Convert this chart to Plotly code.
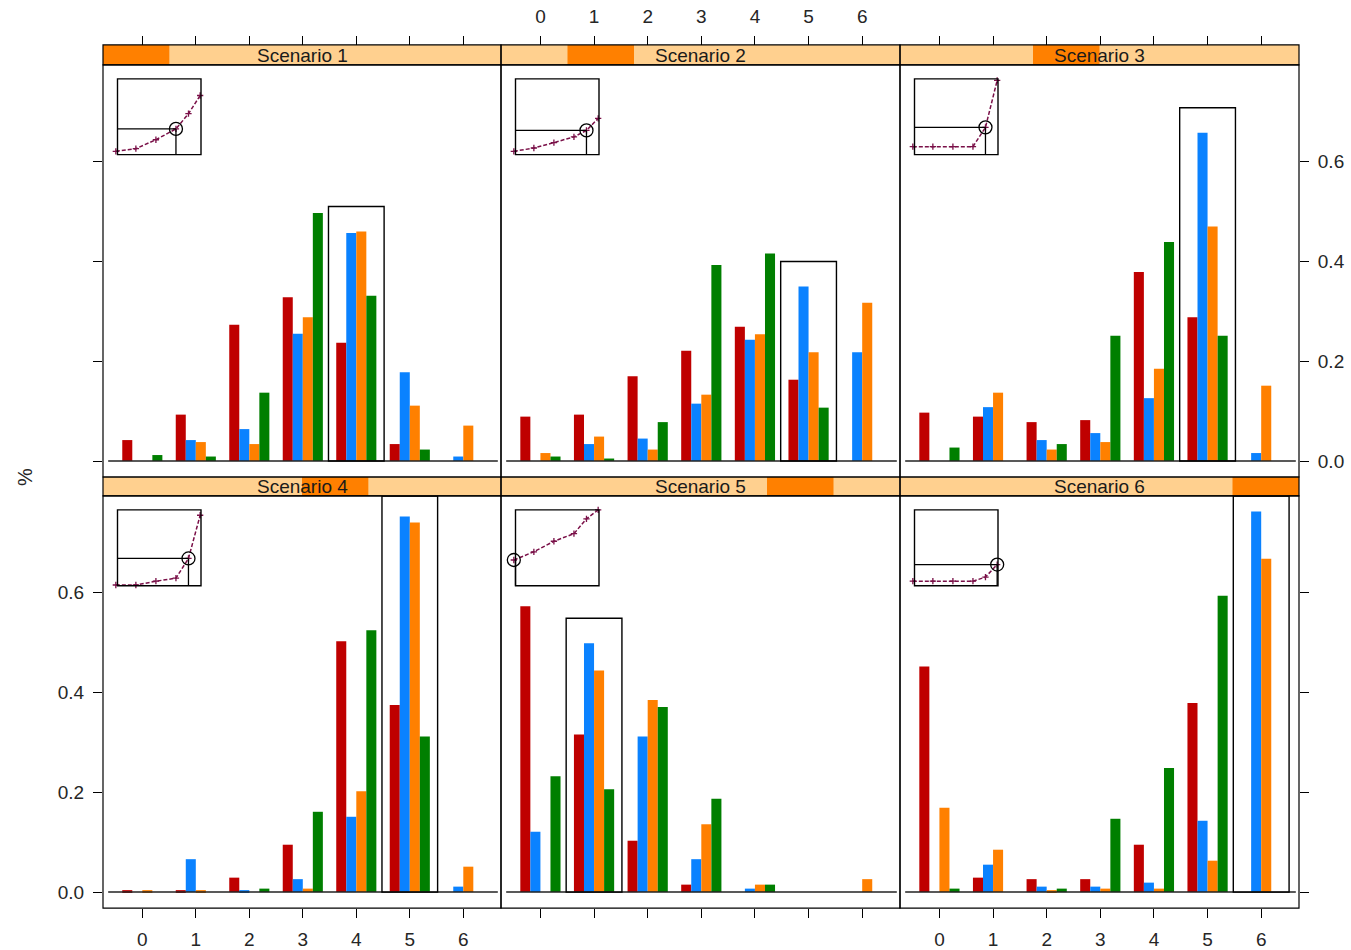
import plotly.graph_objects as go

# ---------------- data ----------------
categories = [0, 1, 2, 3, 4, 5, 6]
scenarios = ["Scenario 1", "Scenario 2", "Scenario 3", "Scenario 4", "Scenario 5", "Scenario 6"]
series_names = ["Series A", "Series B", "Series C", "Series D"]
series_colors = ["#BF0000", "#0A82FF", "#FF8000", "#007F00"]

red_vals = [
    [0.042, 0.093, 0.273, 0.328, 0.237, 0.034, 0.0],
    [0.089, 0.093, 0.170, 0.221, 0.269, 0.163, 0.0],
    [0.097, 0.089, 0.078, 0.082, 0.379, 0.288, 0.0],
    [0.004, 0.004, 0.029, 0.095, 0.503, 0.375, 0.0],
    [0.573, 0.316, 0.103, 0.015, 0.0, 0.0, 0.0],
    [0.452, 0.029, 0.026, 0.026, 0.095, 0.379, 0.0],
]
blue_vals = [
    [0.0, 0.042, 0.064, 0.255, 0.457, 0.178, 0.009],
    [0.0, 0.034, 0.045, 0.115, 0.243, 0.350, 0.218],
    [0.0, 0.108, 0.042, 0.056, 0.126, 0.658, 0.016],
    [0.0, 0.066, 0.004, 0.026, 0.151, 0.753, 0.011],
    [0.121, 0.499, 0.312, 0.066, 0.007, 0.0, 0.0],
    [0.0, 0.055, 0.011, 0.011, 0.019, 0.143, 0.763],
]
orange_vals = [
    [0.0, 0.038, 0.034, 0.288, 0.460, 0.111, 0.071],
    [0.016, 0.049, 0.023, 0.133, 0.254, 0.218, 0.317],
    [0.0, 0.137, 0.023, 0.038, 0.185, 0.470, 0.151],
    [0.004, 0.004, 0.0, 0.007, 0.202, 0.741, 0.051],
    [0.0, 0.444, 0.385, 0.136, 0.015, 0.0, 0.026],
    [0.169, 0.085, 0.004, 0.007, 0.007, 0.063, 0.668],
]
green_vals = [
    [0.012, 0.009, 0.137, 0.497, 0.331, 0.023, 0.0],
    [0.009, 0.005, 0.078, 0.393, 0.416, 0.107, 0.0],
    [0.027, 0.0, 0.034, 0.251, 0.439, 0.251, 0.0],
    [0.0, 0.0, 0.007, 0.161, 0.525, 0.312, 0.0],
    [0.232, 0.206, 0.371, 0.187, 0.015, 0.0, 0.0],
    [0.007, 0.0, 0.007, 0.147, 0.249, 0.594, 0.0],
]
highlight_cat = [4, 5, 5, 5, 1, 6]

inset_x = [-0.02, 0.22, 0.46, 0.70, 0.85, 0.99]
inset_y = [
    [0.044, 0.079, 0.197, 0.34, 0.54, 0.78],
    [0.044, 0.088, 0.159, 0.235, 0.32, 0.478],
    [0.106, 0.106, 0.106, 0.106, 0.36, 0.98],
    [0.01, 0.01, 0.06, 0.10, 0.36, 0.93],
    [0.34, 0.448, 0.587, 0.687, 0.883, 1.0],
    [0.06, 0.06, 0.06, 0.06, 0.115, 0.28],
]
inset_mark = [3, 4, 4, 4, 0, 5]

y_tickvals = [0.0, 0.2, 0.4, 0.6]
y_ticktext = ["0.0", "0.2", "0.4", "0.6"]

# ---------------- layout geometry ----------------
W, H = 1351, 950
def fx(p):
    return p / W
def fy(p):
    return 1 - p / H

col_px = [(103, 501), (501, 900), (900, 1299)]
row_panel_px = [(65, 478), (497, 910)]
row_strip_px = [(45, 65), (478, 497)]
XR = [-0.735, 6.705]
YR = [-0.032, 0.794]
FONT = "Liberation Sans, Arial, sans-serif"
TXT = "#262626"
STRIP_LIGHT = "#FFD08F"
STRIP_DARK = "#FF8000"
INSET_COL = "#7A1048"
TICKFONT = dict(size=19, color=TXT, family=FONT)

fig = go.Figure()
layout = dict(
    width=W, height=H, margin=dict(l=0, r=0, t=0, b=0),
    paper_bgcolor="white", plot_bgcolor="rgba(0,0,0,0)",
    barmode="group", bargap=0.25, bargroupgap=0.0,
    showlegend=False, font=dict(family=FONT, size=19, color=TXT),
)
shapes = []
annotations = []

all_series = [red_vals, blue_vals, orange_vals, green_vals]

for i in range(6):
    r, c = divmod(i, 3)
    n = i + 1
    xa = "x" if n == 1 else f"x{n}"
    ya = "y" if n == 1 else f"y{n}"
    xkey = "xaxis" if n == 1 else f"xaxis{n}"
    ykey = "yaxis" if n == 1 else f"yaxis{n}"
    x0p, x1p = col_px[c]
    y0p, y1p = row_panel_px[r]

    for s, vals in enumerate(all_series):
        fig.add_trace(go.Bar(
            x=categories, y=vals[i], name=series_names[s],
            marker=dict(color=series_colors[s], line=dict(width=0)),
            xaxis=xa, yaxis=ya,
        ))

    xdict = dict(
        domain=[fx(x0p), fx(x1p)], range=XR, showgrid=False, zeroline=False,
        showline=False, tickvals=categories, ticktext=[str(v) for v in categories],
        ticks="outside", ticklen=9, tickwidth=1, tickcolor="black",
        tickfont=TICKFONT, ticklabelstandoff=5, fixedrange=True,
    )
    if r == 0:
        xdict.update(anchor="free", position=fy(row_strip_px[0][0]), side="top",
                     showticklabels=(c == 1))
    else:
        xdict.update(anchor=ya, side="bottom", showticklabels=(c != 1))
    layout[xkey] = xdict

    ydict = dict(
        domain=[fy(y1p), fy(y0p)], range=YR, anchor=xa, showgrid=False,
        zeroline=False, showline=False, tickvals=y_tickvals, ticktext=y_ticktext,
        tickwidth=1, tickcolor="black", ticklen=9,
        tickfont=TICKFONT, ticklabelstandoff=5, fixedrange=True,
    )
    if c == 0:
        ydict.update(side="left", ticks="outside", showticklabels=(r == 1))
    elif c == 2:
        ydict.update(side="right", ticks="outside", showticklabels=(r == 0))
    else:
        ydict.update(ticks="", showticklabels=False)
    layout[ykey] = ydict

    # baseline at 0
    shapes.append(dict(type="line", xref=f"{xa} domain", yref=ya, x0=0.013, x1=0.992,
                       y0=0, y1=0, line=dict(color="#222222", width=1.5), layer="above"))
    # highlight box
    hc = highlight_cat[i]
    top = max(v[i][hc] for v in all_series) + 0.05
    top = min(top, YR[1])
    shapes.append(dict(type="rect", xref=xa, yref=ya, x0=hc - 0.52, x1=hc + 0.52,
                       y0=0, y1=top, line=dict(color="black", width=1.4),
                       fillcolor="rgba(0,0,0,0)", layer="above"))
    # panel border
    shapes.append(dict(type="rect", xref="paper", yref="paper",
                       x0=fx(x0p), x1=fx(x1p), y0=fy(y1p), y1=fy(y0p),
                       line=dict(color="black", width=1.2), layer="above"))
    # strip
    sy0, sy1 = row_strip_px[r]
    shapes.append(dict(type="rect", xref="paper", yref="paper",
                       x0=fx(x0p), x1=fx(x1p), y0=fy(sy1), y1=fy(sy0),
                       fillcolor=STRIP_LIGHT, line=dict(width=0), layer="below"))
    seg = (x1p - x0p) / 6.0
    shapes.append(dict(type="rect", xref="paper", yref="paper",
                       x0=fx(x0p + i * seg), x1=fx(x0p + (i + 1) * seg),
                       y0=fy(sy1), y1=fy(sy0),
                       fillcolor=STRIP_DARK, line=dict(width=0), layer="below"))
    shapes.append(dict(type="rect", xref="paper", yref="paper",
                       x0=fx(x0p), x1=fx(x1p), y0=fy(sy1), y1=fy(sy0),
                       fillcolor="rgba(0,0,0,0)", line=dict(color="black", width=1.2),
                       layer="above"))
    annotations.append(dict(text=scenarios[i], xref="paper", yref="paper",
                            x=fx((x0p + x1p) / 2), y=fy((sy0 + sy1) / 2 + 0.5),
                            showarrow=False, xanchor="center", yanchor="middle",
                            font=dict(size=19, color="#1a1a1a", family=FONT)))

    # inset
    k = 7 + i
    ixa, iya = f"x{k}", f"y{k}"
    bx0 = x0p + 14.5
    bx1 = bx0 + 83.5
    by0 = y0p + 14
    by1 = by0 + 76
    pad = 0.1
    bw, bh = bx1 - bx0, by1 - by0
    layout[f"xaxis{k}"] = dict(domain=[fx(bx0 - pad * bw), fx(bx1 + pad * bw)],
                               range=[-pad, 1 + pad], visible=False, anchor=iya,
                               fixedrange=True)
    layout[f"yaxis{k}"] = dict(domain=[fy(by1 + pad * bh), fy(by0 - pad * bh)],
                               range=[-pad, 1 + pad], visible=False, anchor=ixa,
                               fixedrange=True)
    fig.add_trace(go.Scatter(
        x=inset_x, y=inset_y[i], mode="lines+markers", xaxis=ixa, yaxis=iya,
        line=dict(color=INSET_COL, width=1.5, dash="4px,2px"),
        marker=dict(symbol="cross-thin", size=4.5, line=dict(color=INSET_COL, width=1.3),
                    color=INSET_COL),
        cliponaxis=False, hoverinfo="skip",
    ))
    m = inset_mark[i]
    mu = max(inset_x[m], 0.0)
    mv = inset_y[i][m]
    shapes.append(dict(type="rect", xref=ixa, yref=iya, x0=0, x1=1, y0=0, y1=1,
                       line=dict(color="black", width=1.4), fillcolor="rgba(0,0,0,0)",
                       layer="above"))
    shapes.append(dict(type="line", xref=ixa, yref=iya, x0=0, x1=mu, y0=mv, y1=mv,
                       line=dict(color="black", width=1.3), layer="above"))
    shapes.append(dict(type="line", xref=ixa, yref=iya, x0=mu, x1=mu, y0=0, y1=mv,
                       line=dict(color="black", width=1.3), layer="above"))
    fig.add_trace(go.Scatter(
        x=[inset_x[m]], y=[mv], mode="markers", xaxis=ixa, yaxis=iya,
        marker=dict(symbol="circle-open", size=13, color="black",
                    line=dict(color="black", width=1.3)),
        cliponaxis=False, hoverinfo="skip",
    ))

annotations.append(dict(text="%", xref="paper", yref="paper", x=fx(25), y=fy(478),
                        showarrow=False, textangle=-90, xanchor="center", yanchor="middle",
                        font=dict(size=20, color=TXT, family=FONT)))

layout["shapes"] = shapes
layout["annotations"] = annotations
fig.update_layout(**layout)
fig.write_html("out.html")
